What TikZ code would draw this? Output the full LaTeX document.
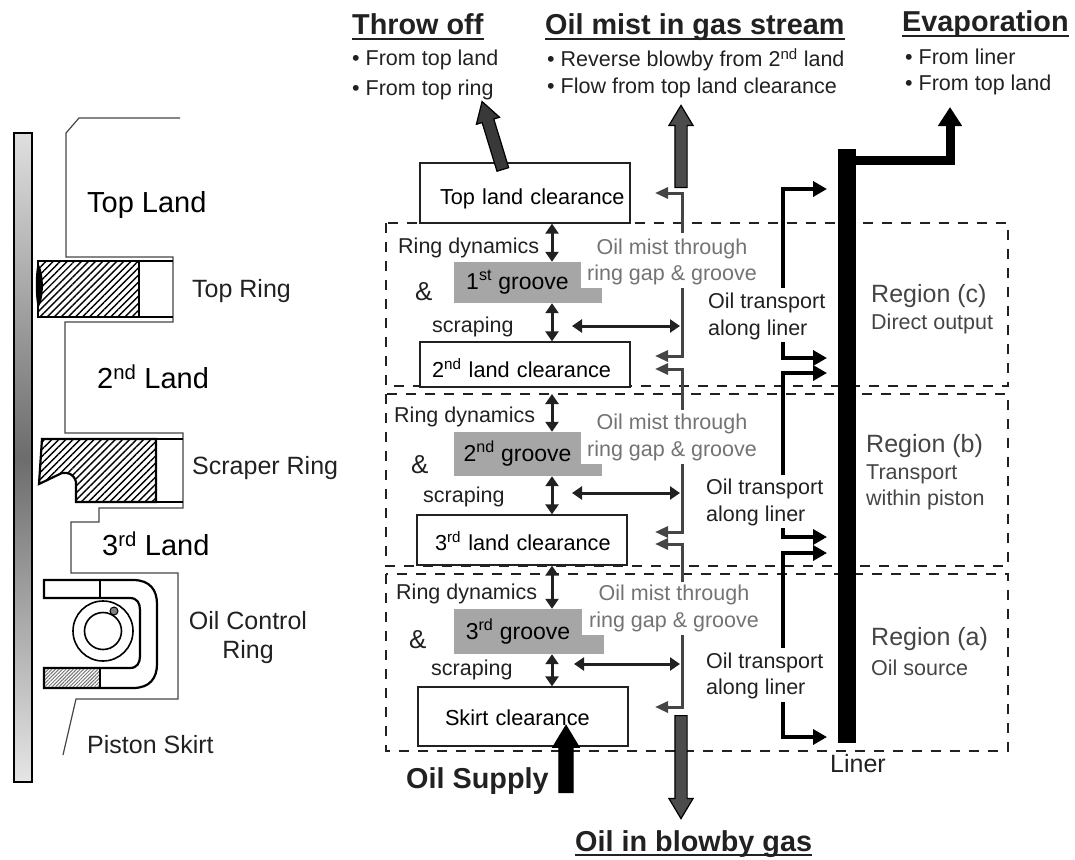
\documentclass[tikz,border=0pt]{standalone}
\usepackage{fontspec}
\setmainfont{Liberation Sans}
\usetikzlibrary{arrows.meta,shapes.arrows,patterns.meta}
\newcommand{\fs}[1]{\fontsize{#1}{#1}\selectfont}
\definecolor{inkdark}{gray}{0.13}
\definecolor{inkmid}{gray}{0.27}
\definecolor{inkfaint}{gray}{0.45}
\definecolor{groovegray}{gray}{0.65}
\tikzset{
  lbl/.style={inner sep=0pt, anchor=west, text=inkdark, font=\fs{21.5}},
  partlbl/.style={lbl, font=\fs{25}},
  landlbl/.style={lbl, text=black, font=\fs{29}},
  titlelbl/.style={inner sep=0pt, anchor=base west, text=inkdark, font=\fs{28.8}\bfseries},
  bulletlbl/.style={lbl, font=\fs{21.5}},
  mistlbl/.style={inner sep=0pt, text=inkfaint, font=\fs{21.5}},
  regionlbl/.style={lbl, text=inkmid, font=\fs{25}},
  subregionlbl/.style={lbl, text=inkmid, font=\fs{21.5}},
  clearbox/.style={draw=inkdark, line width=1.3pt, fill=white, inner xsep=0pt, inner ysep=0pt, align=left, font=\fs{21.7}, text=black},
  groovebox/.style={fill=groovegray, inner sep=0pt, font=\fs{23}, text=black},
  regionbox/.style={draw=inkdark, line width=2.4pt, dash pattern=on 10pt off 9pt},
  piston/.style={draw=inkmid, line width=1.2pt},
  ringline/.style={draw=black, line width=2.2pt},
  hatched/.style={pattern={Lines[angle=45,distance=5pt,line width=1.4pt]}, pattern color=black},
  vlink/.style={draw=inkdark, line width=3pt, {Triangle[length=10pt,width=13pt]}-{Triangle[length=10pt,width=13pt]}},
  mist/.style={draw=inkmid, line width=3pt, -{Triangle[length=13pt,width=11pt]}},
  transport/.style={draw=black, line width=4pt, -{Triangle[length=14pt,width=15pt]}},
  blockarrow/.style={single arrow, draw=black, line width=1.2pt, inner xsep=0pt, inner ysep=5.5pt, minimum width=23pt, single arrow head extend=6pt, single arrow tip angle=62, anchor=tail},
}
\begin{document}
\begin{tikzpicture}[x=1pt,y=-1pt]
\useasboundingbox (0,0) rectangle (1075,859);
% left: piston and rings
\shade[top color=gray!25, bottom color=gray!20, middle color=gray!85!black, draw=black, line width=1.5pt] (14,133) rectangle (32,782);
\draw[piston] (180,118) -- (79,118) -- (66,133) -- (66,257) -- (173,257) -- (173,322) -- (65,322) -- (65,433) -- (183,433) -- (183,508) -- (99,508) -- (99,522) -- (71,522) -- (71,573) -- (178,573) -- (178,699) -- (76,699) -- (63,755);
\fill[white] (39,262) rectangle (172,316);
\fill[white] (42,440) rectangle (182,501);
% top ring
\draw[ringline, hatched] (38,261) rectangle (139,317);
\draw[ringline] (139,261) -- (173,261) (139,317) -- (173,317);
\fill[black] (38,263) .. controls (44,272) and (45,298) .. (38,308) .. controls (35,298) and (35,272) .. (38,263);
% scraper ring
\draw[ringline, hatched] (42,439) -- (156,439) -- (156,502) -- (76,502) -- (76,482) .. controls (74,474) and (68,472) .. (62,473) -- (39,484) -- cycle;
\draw[ringline] (156,439) -- (183,439) (156,502) -- (183,502);
% oil control ring
\draw[ringline] (44,598) -- (44,580) -- (133,580) .. controls (150,580) and (157,590) .. (157,604) -- (157,664) .. controls (157,678) and (150,688) .. (133,688) -- (44,688) -- (44,668) -- (130,668) .. controls (137,668) and (140,663) .. (140,656) -- (140,610) .. controls (140,603) and (137,598) .. (130,598) -- cycle;
\draw[ringline, pattern={Lines[angle=45,distance=2.5pt,line width=1pt]}, pattern color=gray!90!black] (44,668) rectangle (100,688);
\draw[ringline] (100,580) -- (100,598);
\draw[line width=1.6pt] (103,631) circle (30);
\draw[line width=1.6pt] (103,631) circle (18.5);
\draw[fill=gray, line width=1pt] (114,611) circle (4);
\node (topland) [landlbl] at (87,205) {Top Land};
\node (topring) [partlbl] at (192,291) {Top Ring};
\node (secondland) [landlbl] at (97,377) {2\textsuperscript{nd} Land};
\node (scraperring) [partlbl] at (192,468) {Scraper Ring};
\node (thirdland) [landlbl] at (102,544) {3\textsuperscript{rd} Land};
\node (oilring) [partlbl, anchor=center, align=center] at (248,638) {Oil Control\\[4pt]Ring};
\node (skirt) [partlbl] at (87,745) {Piston Skirt};
% regions
\draw[regionbox] (386,223) rectangle (1008,386);
\draw[regionbox] (386,394) rectangle (1008,566);
\draw[regionbox] (386,574) rectangle (1008,751);
% clearance boxes
\node (topbox) [clearbox, text width=210pt, text height=41pt, text depth=19pt] at (525,193) {\hspace*{20pt}\mbox{Top land clearance}};
\node (secondbox) [clearbox, text width=210pt, text height=35pt, text depth=10pt] at (525,364.5) {\hspace*{12pt}\mbox{2\textsuperscript{nd} land clearance}};
\node (thirdbox) [clearbox, text width=210pt, text height=35pt, text depth=15pt] at (522,540) {\hspace*{18pt}\mbox{3\textsuperscript{rd} land clearance}};
\node (skirtbox) [clearbox, text width=210pt, text height=38pt, text depth=21pt] at (523,716.5) {\hspace*{27pt}\mbox{Skirt clearance}};
% grooves
\fill[groovegray] (570,288) rectangle (602,303);
\fill[groovegray] (570,464) rectangle (602,476);
\fill[groovegray] (570,635) rectangle (604,654);
\node (groovea) [groovebox, minimum width=127pt, minimum height=41pt] at (517.5,282.5) {1\textsuperscript{st} groove};
\node (grooveb) [groovebox, minimum width=127pt, minimum height=44pt] at (517.5,454) {2\textsuperscript{nd} groove};
\node (groovec) [groovebox, minimum width=128pt, minimum height=45pt] at (518,631.5) {3\textsuperscript{rd} groove};
% ring dynamics
\coordinate (ringx) at (552,0);
\coordinate (mistx) at (680,0);
\draw[vlink] (topbox.south -| ringx) -- (groovea.north -| ringx);
\draw[vlink] (groovea.south -| ringx) -- (secondbox.north -| ringx);
\draw[vlink] (552,394) -- (grooveb.north -| ringx);
\draw[vlink] (grooveb.south -| ringx) -- (thirdbox.north -| ringx);
\draw[vlink] (thirdbox.south -| ringx) -- (groovec.north -| ringx);
\draw[vlink] (groovec.south -| ringx) -- (skirtbox.north -| ringx);
\coordinate (linka) at (572,326);
\coordinate (linkb) at (572,493);
\coordinate (linkc) at (574,664);
\draw[vlink] (linka) -- (linka -| mistx);
\draw[vlink] (linkb) -- (linkb -| mistx);
\draw[vlink] (linkc) -- (linkc -| mistx);
\node (dynamicsa) [lbl] at (398,248) {Ring dynamics};
\node (dynamicsb) [lbl] at (394,417) {Ring dynamics};
\node (dynamicsc) [lbl] at (396,594) {Ring dynamics};
\node (anda) [lbl, font=\fs{26}] at (415,292) {\&};
\node (andb) [lbl, font=\fs{26}] at (411,465) {\&};
\node (andc) [lbl, font=\fs{26}] at (409,640) {\&};
\node (scrapinga) [lbl] at (432,327) {scraping};
\node (scrapingb) [lbl] at (423,497) {scraping};
\node (scrapingc) [lbl] at (431,670) {scraping};
% oil mist lines
\coordinate (mista) at (682,233);   \coordinate (mistaend) at (655,193);
\coordinate (mistb) at (682,288);   \coordinate (mistbend) at (655,356);
\coordinate (mistc) at (682,410);   \coordinate (mistcend) at (655,369);
\coordinate (mistd) at (682,464);   \coordinate (mistdend) at (655,532);
\coordinate (miste) at (682,582);   \coordinate (misteend) at (655,544);
\coordinate (mistf) at (682,635);   \coordinate (mistfend) at (655,707);
\draw[mist] (mista) |- (mistaend);
\draw[mist] (mistb) |- (mistbend);
\draw[mist] (mistc) |- (mistcend);
\draw[mist] (mistd) |- (mistdend);
\draw[mist] (miste) |- (misteend);
\draw[mist] (mistf) |- (mistfend);
\node (mistlabela) [mistlbl, align=center] at (672,262) {Oil mist through\\[5pt]ring gap \& groove};
\node (mistlabelb) [mistlbl, align=center] at (672,437.5) {Oil mist through\\[5pt]ring gap \& groove};
\node (mistlabelc) [mistlbl, align=center] at (674,608.5) {Oil mist through\\[5pt]ring gap \& groove};
% liner and oil transport
\node (liner) [fill=black, inner sep=0pt, minimum width=18pt, minimum height=594pt] at (847,446) {};
\coordinate (evapstart) at (liner.east |- 0,160);
\coordinate (evapend) at (950,107);
\draw[draw=black, line width=9pt, -{Triangle[length=19pt,width=23pt]}] (evapstart) -| (evapend);
\coordinate (transa) at (783,288);  \coordinate (transaend) at (827,189);
\coordinate (transb) at (783,342);  \coordinate (transbend) at (827,358);
\coordinate (transc) at (783,475);  \coordinate (transcend) at (827,373);
\coordinate (transd) at (783,528);  \coordinate (transdend) at (827,537);
\coordinate (transe) at (783,648);  \coordinate (transeend) at (827,553);
\coordinate (transf) at (783,702);  \coordinate (transfend) at (827,737);
\draw[transport] (transa) |- (transaend);
\draw[transport] (transb) |- (transbend);
\draw[transport] (transc) |- (transcend);
\draw[transport] (transd) |- (transdend);
\draw[transport] (transe) |- (transeend);
\draw[transport] (transf) |- (transfend);
\node (transporta) [lbl, align=left] at (708,316.5) {Oil transport\\[5pt]along liner};
\node (transportb) [lbl, align=left] at (706,502.5) {Oil transport\\[5pt]along liner};
\node (transportc) [lbl, align=left] at (706,676) {Oil transport\\[5pt]along liner};
\node (linerlbl) [partlbl, anchor=center] at (858,764) {Liner};
% region text
\node (regionc) [regionlbl] at (871,296) {Region (c)};
\node (regioncsub) [subregionlbl] at (871,324) {Direct output};
\node (regionb) [regionlbl] at (866,446) {Region (b)};
\node (regionbsub) [subregionlbl, align=left] at (866,487.5) {Transport\\[5pt]within piston};
\node (regiona) [regionlbl] at (871,639) {Region (a)};
\node (regionasub) [subregionlbl] at (871,668) {Oil source};
% block arrows
\node (throwarrow) [blockarrow, fill=gray!45!black, minimum height=71pt, rotate=107] at (503,170) {};
\node (mistarrow) [blockarrow, fill=gray!60!black, minimum height=82pt, rotate=90] at (681,188) {};
\node (blowbyarrow) [blockarrow, fill=gray!60!black, minimum height=103pt, rotate=-90] at (681,715) {};
\node (supplyarrow) [blockarrow, fill=black, inner ysep=6.5pt, minimum height=67pt, rotate=90] at (566,793) {};
% titles
\node (throwtitle) [titlelbl] at (352,35) {Throw off};
\draw[line width=2.5pt, draw=inkdark] ([yshift=-4pt]throwtitle.base west) -- ([yshift=-4pt]throwtitle.base east);
\node (misttitle) [titlelbl] at (545,35) {Oil mist in gas stream};
\draw[line width=2.5pt, draw=inkdark] ([yshift=-4pt]misttitle.base west) -- ([yshift=-4pt]misttitle.base east);
\node (evaptitle) [titlelbl] at (902,32) {Evaporation};
\draw[line width=2.5pt, draw=inkdark] ([yshift=-4pt]evaptitle.base west) -- ([yshift=-4pt]evaptitle.base east);
\node (blowbytitle) [titlelbl] at (575,851) {Oil in blowby gas};
\draw[line width=2.5pt, draw=inkdark] ([yshift=-4pt]blowbytitle.base west) -- ([yshift=-4pt]blowbytitle.base east);
\node (supplylbl) [titlelbl] at (406,788) {Oil Supply};
\node (throwa) [bulletlbl] at (352,60) {\textbullet\ From top land};
\node (throwb) [bulletlbl] at (352,90) {\textbullet\ From top ring};
\node (mista1) [bulletlbl] at (547,60) {\textbullet\ Reverse blowby from 2\textsuperscript{nd} land};
\node (mistb1) [bulletlbl] at (547,88) {\textbullet\ Flow from top land clearance};
\node (evapa) [bulletlbl] at (905,57) {\textbullet\ From liner};
\node (evapb) [bulletlbl] at (905,85) {\textbullet\ From top land};
\end{tikzpicture}
\end{document}
